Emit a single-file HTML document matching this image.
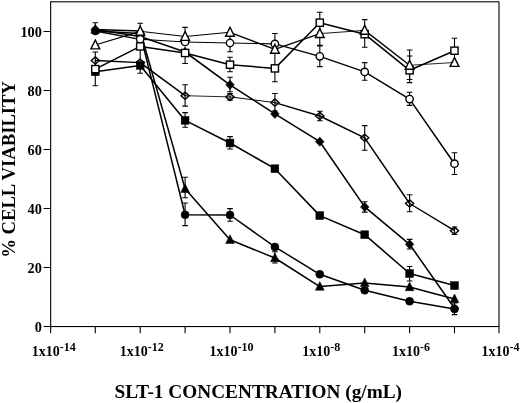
<!DOCTYPE html>
<html><head><meta charset="utf-8"><title>SLT-1 cell viability</title>
<style>html,body{margin:0;padding:0;background:#fff;width:520px;height:403px;overflow:hidden}</style>
</head><body>
<svg width="520" height="403" viewBox="0 0 520 403" style="position:absolute;left:0;top:0;will-change:transform">
<rect x="0" y="0" width="520" height="403" fill="#fff"/>
<rect x="50.65" y="1.8" width="448.35" height="324.75" fill="none" stroke="#000" stroke-width="1.1"/>
<path d="M50.65 326.55V333.25M95.30 326.55V333.25M140.20 326.55V333.25M185.10 326.55V333.25M230.00 326.55V333.25M274.90 326.55V333.25M319.80 326.55V333.25M364.70 326.55V333.25M409.60 326.55V333.25M454.50 326.55V333.25M499.00 326.55V333.25M50.65 326.55H43.55M50.65 267.55H43.55M50.65 208.55H43.55M50.65 149.55H43.55M50.65 90.55H43.55M50.65 31.55H43.55" stroke="#000" stroke-width="1.1" fill="none"/>
<polyline points="95.30,31.00 140.20,33.60 185.10,214.80 230.00,215.00 274.90,246.90 319.80,274.30 364.70,290.30 409.60,301.30 454.50,309.00" fill="none" stroke="#000" stroke-width="1.5" stroke-linejoin="round"/>
<path d="M95.30 22.80V25.00M92.50 22.80H98.10" stroke="#000" stroke-width="1.1" fill="none"/>
<path d="M185.10 203.00V225.60M182.30 203.00H187.90M182.30 225.60H187.90" stroke="#000" stroke-width="1.1" fill="none"/>
<path d="M230.00 208.60V221.30M227.20 208.60H232.80M227.20 221.30H232.80" stroke="#000" stroke-width="1.1" fill="none"/>
<path d="M454.50 303.00V314.60M451.70 303.00H457.30M451.70 314.60H457.30" stroke="#000" stroke-width="1.1" fill="none"/>
<circle cx="95.30" cy="31.00" r="4.0" fill="#000" stroke="#000" stroke-width="0.5"/>
<circle cx="140.20" cy="33.60" r="4.0" fill="#000" stroke="#000" stroke-width="0.5"/>
<circle cx="185.10" cy="214.80" r="4.0" fill="#000" stroke="#000" stroke-width="0.5"/>
<circle cx="230.00" cy="215.00" r="4.0" fill="#000" stroke="#000" stroke-width="0.5"/>
<circle cx="274.90" cy="246.90" r="4.0" fill="#000" stroke="#000" stroke-width="0.5"/>
<circle cx="319.80" cy="274.30" r="4.0" fill="#000" stroke="#000" stroke-width="0.5"/>
<circle cx="364.70" cy="290.30" r="4.0" fill="#000" stroke="#000" stroke-width="0.5"/>
<circle cx="409.60" cy="301.30" r="4.0" fill="#000" stroke="#000" stroke-width="0.5"/>
<circle cx="454.50" cy="309.00" r="4.0" fill="#000" stroke="#000" stroke-width="0.5"/>
<polyline points="95.30,29.50 140.20,31.00 185.10,188.80 230.00,239.80 274.90,258.00 319.80,286.60 364.70,282.90 409.60,287.00 454.50,299.00" fill="none" stroke="#000" stroke-width="1.5" stroke-linejoin="round"/>
<path d="M185.10 177.30V197.80M182.30 177.30H187.90M182.30 197.80H187.90" stroke="#000" stroke-width="1.1" fill="none"/>
<path d="M274.90 251.80V263.00M272.10 251.80H277.70M272.10 263.00H277.70" stroke="#000" stroke-width="1.1" fill="none"/>
<path d="M95.30 24.50L99.70 33.20L90.90 33.20Z" fill="#000" stroke="#000" stroke-width="0.5" stroke-linejoin="miter"/>
<path d="M140.20 26.00L144.60 34.70L135.80 34.70Z" fill="#000" stroke="#000" stroke-width="0.5" stroke-linejoin="miter"/>
<path d="M185.10 183.80L189.50 192.50L180.70 192.50Z" fill="#000" stroke="#000" stroke-width="0.5" stroke-linejoin="miter"/>
<path d="M230.00 234.80L234.40 243.50L225.60 243.50Z" fill="#000" stroke="#000" stroke-width="0.5" stroke-linejoin="miter"/>
<path d="M274.90 253.00L279.30 261.70L270.50 261.70Z" fill="#000" stroke="#000" stroke-width="0.5" stroke-linejoin="miter"/>
<path d="M319.80 281.60L324.20 290.30L315.40 290.30Z" fill="#000" stroke="#000" stroke-width="0.5" stroke-linejoin="miter"/>
<path d="M364.70 277.90L369.10 286.60L360.30 286.60Z" fill="#000" stroke="#000" stroke-width="0.5" stroke-linejoin="miter"/>
<path d="M409.60 282.00L414.00 290.70L405.20 290.70Z" fill="#000" stroke="#000" stroke-width="0.5" stroke-linejoin="miter"/>
<path d="M454.50 294.00L458.90 302.70L450.10 302.70Z" fill="#000" stroke="#000" stroke-width="0.5" stroke-linejoin="miter"/>
<polyline points="95.30,29.50 140.20,36.50 185.10,52.00 230.00,84.80 274.90,113.90 319.80,141.70 364.70,206.90 409.60,244.30 454.50,308.30" fill="none" stroke="#000" stroke-width="1.55" stroke-linejoin="round"/>
<path d="M230.00 77.30V91.70M227.20 77.30H232.80M227.20 91.70H232.80" stroke="#000" stroke-width="1.1" fill="none"/>
<path d="M364.70 201.70V212.10M361.90 201.70H367.50M361.90 212.10H367.50" stroke="#000" stroke-width="1.1" fill="none"/>
<path d="M409.60 239.40V249.00M406.80 239.40H412.40M406.80 249.00H412.40" stroke="#000" stroke-width="1.1" fill="none"/>
<path d="M95.30 24.90L99.60 29.50L95.30 34.10L91.00 29.50Z" fill="#000" stroke="#000" stroke-width="0.5"/>
<path d="M140.20 31.90L144.50 36.50L140.20 41.10L135.90 36.50Z" fill="#000" stroke="#000" stroke-width="0.5"/>
<path d="M185.10 47.40L189.40 52.00L185.10 56.60L180.80 52.00Z" fill="#000" stroke="#000" stroke-width="0.5"/>
<path d="M230.00 80.20L234.30 84.80L230.00 89.40L225.70 84.80Z" fill="#000" stroke="#000" stroke-width="0.5"/>
<path d="M274.90 109.30L279.20 113.90L274.90 118.50L270.60 113.90Z" fill="#000" stroke="#000" stroke-width="0.5"/>
<path d="M319.80 137.10L324.10 141.70L319.80 146.30L315.50 141.70Z" fill="#000" stroke="#000" stroke-width="0.5"/>
<path d="M364.70 202.30L369.00 206.90L364.70 211.50L360.40 206.90Z" fill="#000" stroke="#000" stroke-width="0.5"/>
<path d="M409.60 239.70L413.90 244.30L409.60 248.90L405.30 244.30Z" fill="#000" stroke="#000" stroke-width="0.5"/>
<path d="M454.50 303.70L458.80 308.30L454.50 312.90L450.20 308.30Z" fill="#000" stroke="#000" stroke-width="0.5"/>
<line x1="95.30" y1="60.50" x2="140.20" y2="62.60" stroke="#000" stroke-width="1.4" stroke-linecap="round"/>
<line x1="140.20" y1="62.60" x2="185.10" y2="95.70" stroke="#000" stroke-width="1.5" stroke-linecap="round"/>
<line x1="185.10" y1="95.70" x2="230.00" y2="96.90" stroke="#000" stroke-width="0.85" stroke-linecap="round"/>
<line x1="230.00" y1="96.90" x2="274.90" y2="102.60" stroke="#000" stroke-width="0.95" stroke-linecap="round"/>
<line x1="274.90" y1="102.60" x2="319.80" y2="116.00" stroke="#000" stroke-width="1.45" stroke-linecap="round"/>
<line x1="319.80" y1="116.00" x2="364.70" y2="137.80" stroke="#000" stroke-width="1.5" stroke-linecap="round"/>
<line x1="364.70" y1="137.80" x2="409.60" y2="203.50" stroke="#000" stroke-width="1.5" stroke-linecap="round"/>
<line x1="409.60" y1="203.50" x2="454.50" y2="230.70" stroke="#000" stroke-width="1.4" stroke-linecap="round"/>
<path d="M185.10 84.80V106.10M182.30 84.80H187.90M182.30 106.10H187.90" stroke="#000" stroke-width="1.1" fill="none"/>
<path d="M230.00 93.50V100.30M227.20 93.50H232.80M227.20 100.30H232.80" stroke="#000" stroke-width="1.1" fill="none"/>
<path d="M274.90 93.50V111.00M272.10 93.50H277.70M272.10 111.00H277.70" stroke="#000" stroke-width="1.1" fill="none"/>
<path d="M319.80 111.30V120.80M317.00 111.30H322.60M317.00 120.80H322.60" stroke="#000" stroke-width="1.1" fill="none"/>
<path d="M364.70 125.60V150.30M361.90 125.60H367.50M361.90 150.30H367.50" stroke="#000" stroke-width="1.1" fill="none"/>
<path d="M409.60 194.80V211.80M406.80 194.80H412.40M406.80 211.80H412.40" stroke="#000" stroke-width="1.1" fill="none"/>
<path d="M454.50 227.00V234.50M451.70 227.00H457.30M451.70 234.50H457.30" stroke="#000" stroke-width="1.1" fill="none"/>
<path d="M95.30 56.90L99.40 60.50L95.30 64.10L91.20 60.50Z" fill="none" stroke="#000" stroke-width="1.4"/>
<path d="M140.20 59.00L144.30 62.60L140.20 66.20L136.10 62.60Z" fill="none" stroke="#000" stroke-width="1.4"/>
<path d="M185.10 92.10L189.20 95.70L185.10 99.30L181.00 95.70Z" fill="none" stroke="#000" stroke-width="1.4"/>
<path d="M230.00 93.30L234.10 96.90L230.00 100.50L225.90 96.90Z" fill="none" stroke="#000" stroke-width="1.4"/>
<path d="M274.90 99.00L279.00 102.60L274.90 106.20L270.80 102.60Z" fill="none" stroke="#000" stroke-width="1.4"/>
<path d="M319.80 112.40L323.90 116.00L319.80 119.60L315.70 116.00Z" fill="none" stroke="#000" stroke-width="1.4"/>
<path d="M364.70 134.20L368.80 137.80L364.70 141.40L360.60 137.80Z" fill="none" stroke="#000" stroke-width="1.4"/>
<path d="M409.60 199.90L413.70 203.50L409.60 207.10L405.50 203.50Z" fill="none" stroke="#000" stroke-width="1.4"/>
<path d="M454.50 227.10L458.60 230.70L454.50 234.30L450.40 230.70Z" fill="none" stroke="#000" stroke-width="1.4"/>
<polyline points="95.30,71.80 140.20,65.40 185.10,120.40 230.00,143.00 274.90,168.70 319.80,215.60 364.70,234.70 409.60,273.50 454.50,285.60" fill="none" stroke="#000" stroke-width="1.55" stroke-linejoin="round"/>
<path d="M140.20 50.00V73.20M137.40 73.20H143.00" stroke="#000" stroke-width="1.1" fill="none"/>
<path d="M185.10 112.60V127.30M182.30 112.60H187.90M182.30 127.30H187.90" stroke="#000" stroke-width="1.1" fill="none"/>
<path d="M230.00 136.60V149.00M227.20 136.60H232.80M227.20 149.00H232.80" stroke="#000" stroke-width="1.1" fill="none"/>
<path d="M409.60 266.50V281.00M406.80 266.50H412.40M406.80 281.00H412.40" stroke="#000" stroke-width="1.1" fill="none"/>
<rect x="91.40" y="67.90" width="7.8" height="7.8" fill="#000" stroke="#000" stroke-width="0.5"/>
<rect x="136.30" y="61.50" width="7.8" height="7.8" fill="#000" stroke="#000" stroke-width="0.5"/>
<rect x="181.20" y="116.50" width="7.8" height="7.8" fill="#000" stroke="#000" stroke-width="0.5"/>
<rect x="226.10" y="139.10" width="7.8" height="7.8" fill="#000" stroke="#000" stroke-width="0.5"/>
<rect x="271.00" y="164.80" width="7.8" height="7.8" fill="#000" stroke="#000" stroke-width="0.5"/>
<rect x="315.90" y="211.70" width="7.8" height="7.8" fill="#000" stroke="#000" stroke-width="0.5"/>
<rect x="360.80" y="230.80" width="7.8" height="7.8" fill="#000" stroke="#000" stroke-width="0.5"/>
<rect x="405.70" y="269.60" width="7.8" height="7.8" fill="#000" stroke="#000" stroke-width="0.5"/>
<rect x="450.60" y="281.70" width="7.8" height="7.8" fill="#000" stroke="#000" stroke-width="0.5"/>
<line x1="95.30" y1="31.00" x2="140.20" y2="39.30" stroke="#000" stroke-width="1.3" stroke-linecap="round"/>
<line x1="140.20" y1="39.30" x2="185.10" y2="42.00" stroke="#000" stroke-width="1.05" stroke-linecap="round"/>
<line x1="185.10" y1="42.00" x2="230.00" y2="43.00" stroke="#000" stroke-width="1.1" stroke-linecap="round"/>
<line x1="230.00" y1="43.00" x2="274.90" y2="43.90" stroke="#000" stroke-width="1.2" stroke-linecap="round"/>
<line x1="274.90" y1="43.90" x2="319.80" y2="56.30" stroke="#000" stroke-width="1.35" stroke-linecap="round"/>
<line x1="319.80" y1="56.30" x2="364.70" y2="71.90" stroke="#000" stroke-width="1.4" stroke-linecap="round"/>
<line x1="364.70" y1="71.90" x2="409.60" y2="99.10" stroke="#000" stroke-width="1.45" stroke-linecap="round"/>
<line x1="409.60" y1="99.10" x2="454.50" y2="163.70" stroke="#000" stroke-width="1.5" stroke-linecap="round"/>
<path d="M230.00 34.30V51.70M227.20 34.30H232.80M227.20 51.70H232.80" stroke="#000" stroke-width="1.1" fill="none"/>
<path d="M274.90 33.50V54.00M272.10 33.50H277.70" stroke="#000" stroke-width="1.1" fill="none"/>
<path d="M319.80 46.00V66.60M317.00 46.00H322.60M317.00 66.60H322.60" stroke="#000" stroke-width="1.1" fill="none"/>
<path d="M364.70 62.60V80.20M361.90 62.60H367.50M361.90 80.20H367.50" stroke="#000" stroke-width="1.1" fill="none"/>
<path d="M409.60 92.30V105.40M406.80 92.30H412.40M406.80 105.40H412.40" stroke="#000" stroke-width="1.1" fill="none"/>
<path d="M454.50 152.80V174.50M451.70 152.80H457.30M451.70 174.50H457.30" stroke="#000" stroke-width="1.1" fill="none"/>
<circle cx="140.20" cy="39.30" r="3.7" fill="#fff" stroke="#000" stroke-width="1.4"/>
<circle cx="185.10" cy="42.00" r="3.7" fill="#fff" stroke="#000" stroke-width="1.4"/>
<circle cx="230.00" cy="43.00" r="3.7" fill="#fff" stroke="#000" stroke-width="1.4"/>
<circle cx="274.90" cy="43.90" r="3.7" fill="#fff" stroke="#000" stroke-width="1.4"/>
<circle cx="319.80" cy="56.30" r="3.7" fill="#fff" stroke="#000" stroke-width="1.4"/>
<circle cx="364.70" cy="71.90" r="3.7" fill="#fff" stroke="#000" stroke-width="1.4"/>
<circle cx="409.60" cy="99.10" r="3.7" fill="#fff" stroke="#000" stroke-width="1.4"/>
<circle cx="454.50" cy="163.70" r="3.7" fill="#fff" stroke="#000" stroke-width="1.4"/>
<polyline points="95.30,69.10 140.20,46.40 185.10,53.00 230.00,64.70 274.90,68.40 319.80,22.70 364.70,34.20 409.60,70.30 454.50,50.70" fill="none" stroke="#000" stroke-width="1.5" stroke-linejoin="round"/>
<path d="M95.30 52.00V85.80M92.50 52.00H98.10M92.50 85.80H98.10" stroke="#000" stroke-width="1.1" fill="none"/>
<path d="M185.10 47.00V63.50M182.30 63.50H187.90" stroke="#000" stroke-width="1.1" fill="none"/>
<path d="M230.00 57.30V71.70M227.20 57.30H232.80M227.20 71.70H232.80" stroke="#000" stroke-width="1.1" fill="none"/>
<path d="M274.90 54.00V81.70M272.10 81.70H277.70" stroke="#000" stroke-width="1.1" fill="none"/>
<path d="M319.80 12.30V33.00M317.00 12.30H322.60M317.00 33.00H322.60" stroke="#000" stroke-width="1.1" fill="none"/>
<path d="M364.70 19.60V47.20M361.90 19.60H367.50M361.90 47.20H367.50" stroke="#000" stroke-width="1.1" fill="none"/>
<path d="M409.60 50.00V82.60M406.80 50.00H412.40M406.80 82.60H412.40" stroke="#000" stroke-width="1.1" fill="none"/>
<path d="M409.60 56.00V79.50M406.80 56.00H412.40M406.80 79.50H412.40" stroke="#000" stroke-width="1.1" fill="none"/>
<path d="M454.50 38.30V62.00M451.70 38.30H457.30M451.70 62.00H457.30" stroke="#000" stroke-width="1.1" fill="none"/>
<rect x="91.70" y="65.50" width="7.2" height="7.2" fill="#fff" stroke="#000" stroke-width="1.4"/>
<rect x="136.60" y="42.80" width="7.2" height="7.2" fill="#fff" stroke="#000" stroke-width="1.4"/>
<rect x="181.50" y="49.40" width="7.2" height="7.2" fill="#fff" stroke="#000" stroke-width="1.4"/>
<rect x="226.40" y="61.10" width="7.2" height="7.2" fill="#fff" stroke="#000" stroke-width="1.4"/>
<rect x="271.30" y="64.80" width="7.2" height="7.2" fill="#fff" stroke="#000" stroke-width="1.4"/>
<rect x="316.20" y="19.10" width="7.2" height="7.2" fill="#fff" stroke="#000" stroke-width="1.4"/>
<rect x="361.10" y="30.60" width="7.2" height="7.2" fill="#fff" stroke="#000" stroke-width="1.4"/>
<rect x="406.00" y="66.70" width="7.2" height="7.2" fill="#fff" stroke="#000" stroke-width="1.4"/>
<rect x="450.90" y="47.10" width="7.2" height="7.2" fill="#fff" stroke="#000" stroke-width="1.4"/>
<line x1="95.30" y1="45.00" x2="140.20" y2="31.30" stroke="#000" stroke-width="1.3" stroke-linecap="round"/>
<line x1="140.20" y1="31.30" x2="185.10" y2="36.50" stroke="#000" stroke-width="1.0" stroke-linecap="round"/>
<line x1="185.10" y1="36.50" x2="230.00" y2="32.30" stroke="#000" stroke-width="1.1" stroke-linecap="round"/>
<line x1="230.00" y1="32.30" x2="274.90" y2="49.40" stroke="#000" stroke-width="1.3" stroke-linecap="round"/>
<line x1="274.90" y1="49.40" x2="319.80" y2="33.60" stroke="#000" stroke-width="1.15" stroke-linecap="round"/>
<line x1="319.80" y1="33.60" x2="364.70" y2="30.40" stroke="#000" stroke-width="0.9" stroke-linecap="round"/>
<line x1="364.70" y1="30.40" x2="409.60" y2="65.30" stroke="#000" stroke-width="1.35" stroke-linecap="round"/>
<line x1="409.60" y1="65.30" x2="454.50" y2="62.50" stroke="#000" stroke-width="0.85" stroke-linecap="round"/>
<path d="M140.20 23.20V28.00M137.40 23.20H143.00" stroke="#000" stroke-width="1.1" fill="none"/>
<path d="M185.10 27.40V33.00M182.30 27.40H187.90" stroke="#000" stroke-width="1.1" fill="none"/>
<path d="M319.80 30.00V45.40M317.00 45.40H322.60" stroke="#000" stroke-width="1.1" fill="none"/>
<path d="M95.30 40.00L99.70 48.90L90.90 48.90Z" fill="#fff" stroke="#000" stroke-width="1.4" stroke-linejoin="miter"/>
<path d="M140.20 26.30L144.60 35.20L135.80 35.20Z" fill="#fff" stroke="#000" stroke-width="1.4" stroke-linejoin="miter"/>
<path d="M185.10 31.50L189.50 40.40L180.70 40.40Z" fill="#fff" stroke="#000" stroke-width="1.4" stroke-linejoin="miter"/>
<path d="M230.00 27.30L234.40 36.20L225.60 36.20Z" fill="#fff" stroke="#000" stroke-width="1.4" stroke-linejoin="miter"/>
<path d="M274.90 44.40L279.30 53.30L270.50 53.30Z" fill="#fff" stroke="#000" stroke-width="1.4" stroke-linejoin="miter"/>
<path d="M319.80 28.60L324.20 37.50L315.40 37.50Z" fill="#fff" stroke="#000" stroke-width="1.4" stroke-linejoin="miter"/>
<path d="M364.70 25.40L369.10 34.30L360.30 34.30Z" fill="#fff" stroke="#000" stroke-width="1.4" stroke-linejoin="miter"/>
<path d="M409.60 60.30L414.00 69.20L405.20 69.20Z" fill="#fff" stroke="#000" stroke-width="1.4" stroke-linejoin="miter"/>
<path d="M454.50 57.50L458.90 66.40L450.10 66.40Z" fill="#fff" stroke="#000" stroke-width="1.4" stroke-linejoin="miter"/>
<text x="41.9" y="331.90" text-anchor="end" style="font-family:'Liberation Serif','Times New Roman',serif;font-weight:bold;fill:#000;font-size:14.3px">0</text>
<text x="41.9" y="272.90" text-anchor="end" style="font-family:'Liberation Serif','Times New Roman',serif;font-weight:bold;fill:#000;font-size:14.3px">20</text>
<text x="41.9" y="213.90" text-anchor="end" style="font-family:'Liberation Serif','Times New Roman',serif;font-weight:bold;fill:#000;font-size:14.3px">40</text>
<text x="41.9" y="154.90" text-anchor="end" style="font-family:'Liberation Serif','Times New Roman',serif;font-weight:bold;fill:#000;font-size:14.3px">60</text>
<text x="41.9" y="95.90" text-anchor="end" style="font-family:'Liberation Serif','Times New Roman',serif;font-weight:bold;fill:#000;font-size:14.3px">80</text>
<text x="41.9" y="36.90" text-anchor="end" style="font-family:'Liberation Serif','Times New Roman',serif;font-weight:bold;fill:#000;font-size:14.3px">100</text>
<text x="53.85" y="355.8" text-anchor="middle" style="font-family:'Liberation Serif','Times New Roman',serif;font-weight:bold;fill:#000;font-size:14px">1x10<tspan dy="-5.1" style="font-size:12px">-14</tspan></text>
<text x="141.70" y="355.8" text-anchor="middle" style="font-family:'Liberation Serif','Times New Roman',serif;font-weight:bold;fill:#000;font-size:14px">1x10<tspan dy="-5.1" style="font-size:12px">-12</tspan></text>
<text x="231.50" y="355.8" text-anchor="middle" style="font-family:'Liberation Serif','Times New Roman',serif;font-weight:bold;fill:#000;font-size:14px">1x10<tspan dy="-5.1" style="font-size:12px">-10</tspan></text>
<text x="321.30" y="355.8" text-anchor="middle" style="font-family:'Liberation Serif','Times New Roman',serif;font-weight:bold;fill:#000;font-size:14px">1x10<tspan dy="-5.1" style="font-size:12px">-8</tspan></text>
<text x="411.10" y="355.8" text-anchor="middle" style="font-family:'Liberation Serif','Times New Roman',serif;font-weight:bold;fill:#000;font-size:14px">1x10<tspan dy="-5.1" style="font-size:12px">-6</tspan></text>
<text x="500.50" y="355.8" text-anchor="middle" style="font-family:'Liberation Serif','Times New Roman',serif;font-weight:bold;fill:#000;font-size:14px">1x10<tspan dy="-5.1" style="font-size:12px">-4</tspan></text>
<text x="258.3" y="398.1" text-anchor="middle" style="font-family:'Liberation Serif','Times New Roman',serif;font-weight:bold;fill:#000;font-size:19px" textLength="287.5" lengthAdjust="spacingAndGlyphs">SLT-1 CONCENTRATION (g/mL)</text>
<text transform="translate(14.9,169.4) rotate(-90)" text-anchor="middle" style="font-family:'Liberation Serif','Times New Roman',serif;font-weight:bold;fill:#000;font-size:18px" textLength="176.8" lengthAdjust="spacingAndGlyphs">% CELL VIABILITY</text>
</svg>
</body></html>
